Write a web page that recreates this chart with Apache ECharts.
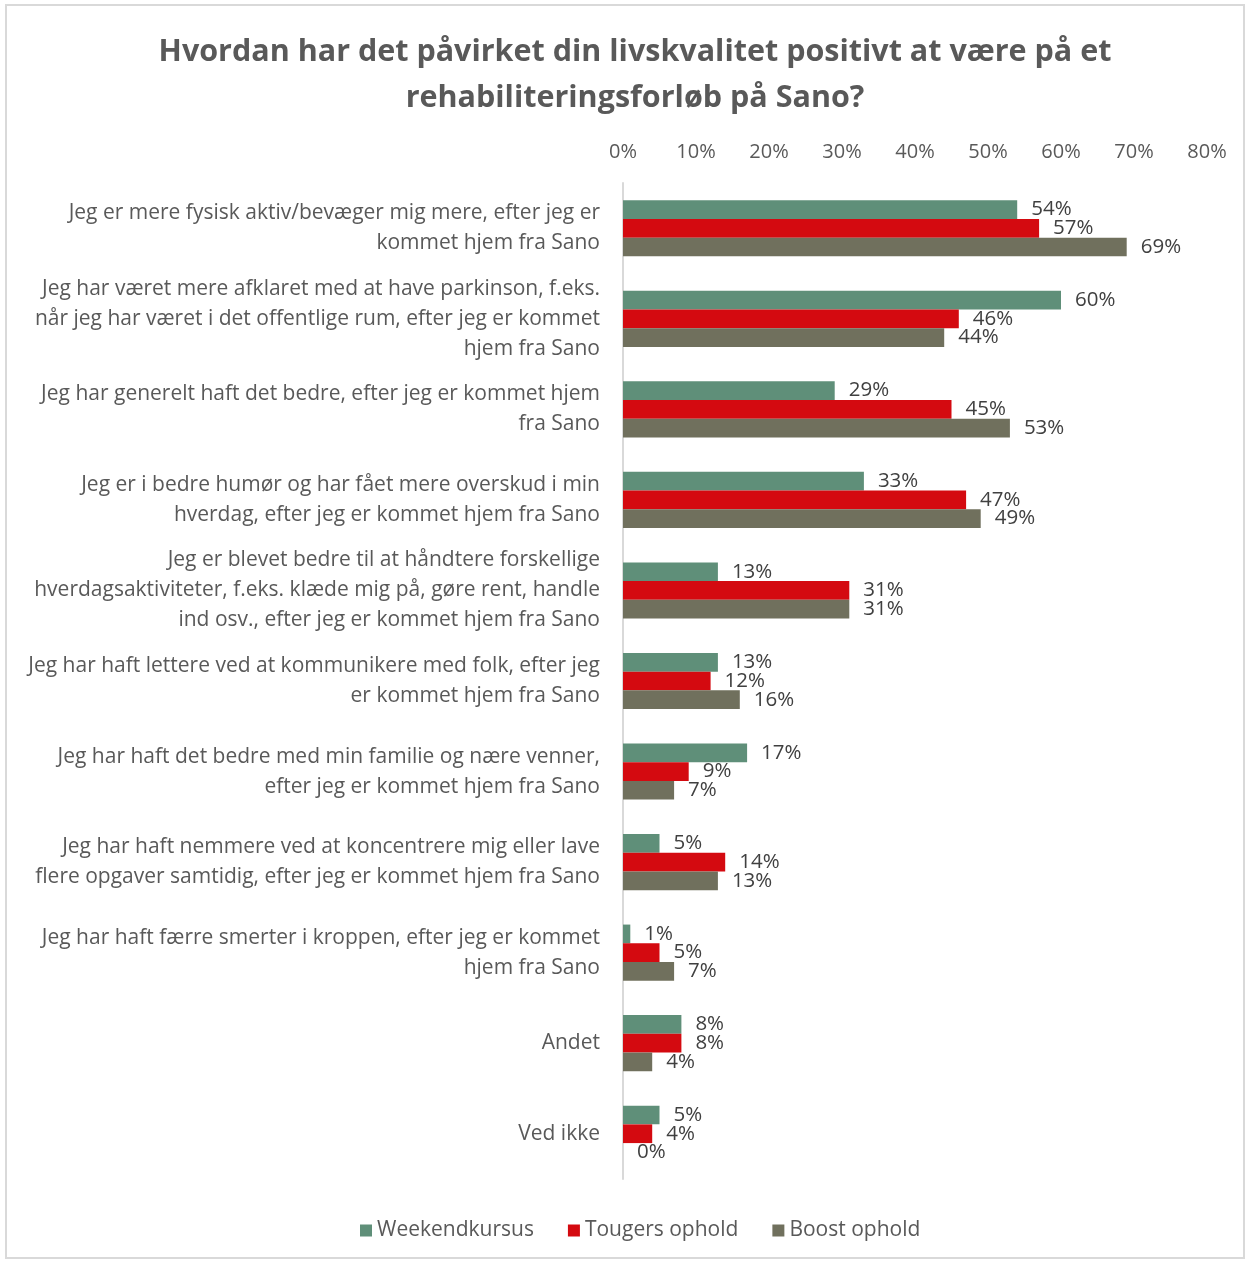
<!DOCTYPE html>
<html>
<head>
<meta charset="utf-8">
<script src="https://cdn.jsdelivr.net/npm/echarts@6/dist/echarts.min.js"></script>
<style>
html,body{margin:0;padding:0;background:#fff;}
#chart{width:1250px;height:1261px;}
</style>
</head>
<body>
<div id="chart"></div>
<script>
const titleText = "Hvordan har det påvirket din livskvalitet positivt at være på et\nrehabiliteringsforløb på Sano?";
const categories = [
  "Jeg er mere fysisk aktiv/bevæger mig mere, efter jeg er\nkommet hjem fra Sano",
  "Jeg har været mere afklaret med at have parkinson, f.eks.\nnår jeg har været i det offentlige rum, efter jeg er kommet\nhjem fra Sano",
  "Jeg har generelt haft det bedre, efter jeg er kommet hjem\nfra Sano",
  "Jeg er i bedre humør og har fået mere overskud i min\nhverdag, efter jeg er kommet hjem fra Sano",
  "Jeg er blevet bedre til at håndtere forskellige\nhverdagsaktiviteter, f.eks. klæde mig på, gøre rent, handle\nind osv., efter jeg er kommet hjem fra Sano",
  "Jeg har haft lettere ved at kommunikere med folk, efter jeg\ner kommet hjem fra Sano",
  "Jeg har haft det bedre med min familie og nære venner,\nefter jeg er kommet hjem fra Sano",
  "Jeg har haft nemmere ved at koncentrere mig eller lave\nflere opgaver samtidig, efter jeg er kommet hjem fra Sano",
  "Jeg har haft færre smerter i kroppen, efter jeg er kommet\nhjem fra Sano",
  "Andet",
  "Ved ikke"
];
const seriesNames = ["Weekendkursus", "Tougers ophold", "Boost ophold"];
const weekendkursus = [54, 60, 29, 33, 13, 13, 17, 5, 1, 8, 5];
const tougersOphold = [57, 46, 45, 47, 31, 12, 9, 14, 5, 8, 4];
const boostOphold   = [69, 44, 53, 49, 31, 16, 7, 13, 7, 4, 0];
const colors = ["#5f8f79", "#d40a10", "#70705d"];

const FONT = "'Open Sans', 'Noto Sans', sans-serif";
const chart = echarts.init(document.getElementById('chart'));

function mkSeries(name, data, color) {
  return {
    name: name,
    type: 'bar',
    data: data,
    barGap: '0%',
    barCategoryGap: '38%',
    itemStyle: { color: color },
    label: {
      show: true,
      position: 'right',
      distance: 14,
      formatter: '{c}%',
      color: '#404040',
      fontSize: 20.5,
      fontFamily: FONT
    }
  };
}

chart.setOption({
  animation: false,
  backgroundColor: '#ffffff',
  textStyle: { fontFamily: FONT },
  title: {
    text: titleText,
    left: 630,
    textAlign: 'center',
    top: 24,
    textStyle: {
      fontSize: 30.5,
      fontWeight: 'bold',
      color: '#595959',
      lineHeight: 46,
      fontFamily: FONT
    }
  },
  legend: {
    data: seriesNames,
    bottom: 15,
    left: 355,
    itemWidth: 12,
    itemHeight: 12,
    itemGap: 34,
    icon: 'rect',
    textStyle: { fontSize: 21, color: '#595959', fontFamily: FONT }
  },
  grid: { left: 623, right: 43, top: 183, bottom: 82, containLabel: false },
  xAxis: {
    type: 'value',
    position: 'top',
    min: 0,
    max: 80,
    interval: 10,
    axisLine: { show: false },
    axisTick: { show: false },
    splitLine: { show: false },
    axisLabel: {
      formatter: '{value}%',
      fontSize: 20,
      color: '#595959',
      margin: 21,
      fontFamily: FONT
    }
  },
  yAxis: {
    type: 'category',
    inverse: true,
    data: categories,
    axisLine: { show: true, lineStyle: { color: '#d9d9d9', width: 2 } },
    axisTick: { show: false },
    axisLabel: {
      fontSize: 21,
      color: '#595959',
      lineHeight: 30,
      margin: 23,
      align: 'right',
      fontFamily: FONT
    }
  },
  series: [
    mkSeries(seriesNames[0], weekendkursus, colors[0]),
    mkSeries(seriesNames[1], tougersOphold, colors[1]),
    mkSeries(seriesNames[2], boostOphold, colors[2])
  ],
  graphic: [{
    type: 'rect',
    shape: { x: 6, y: 5, width: 1238, height: 1253 },
    style: { fill: 'none', stroke: '#d9d9d9', lineWidth: 2 },
    silent: true,
    z: -1
  }]
});
</script>
</body>
</html>
